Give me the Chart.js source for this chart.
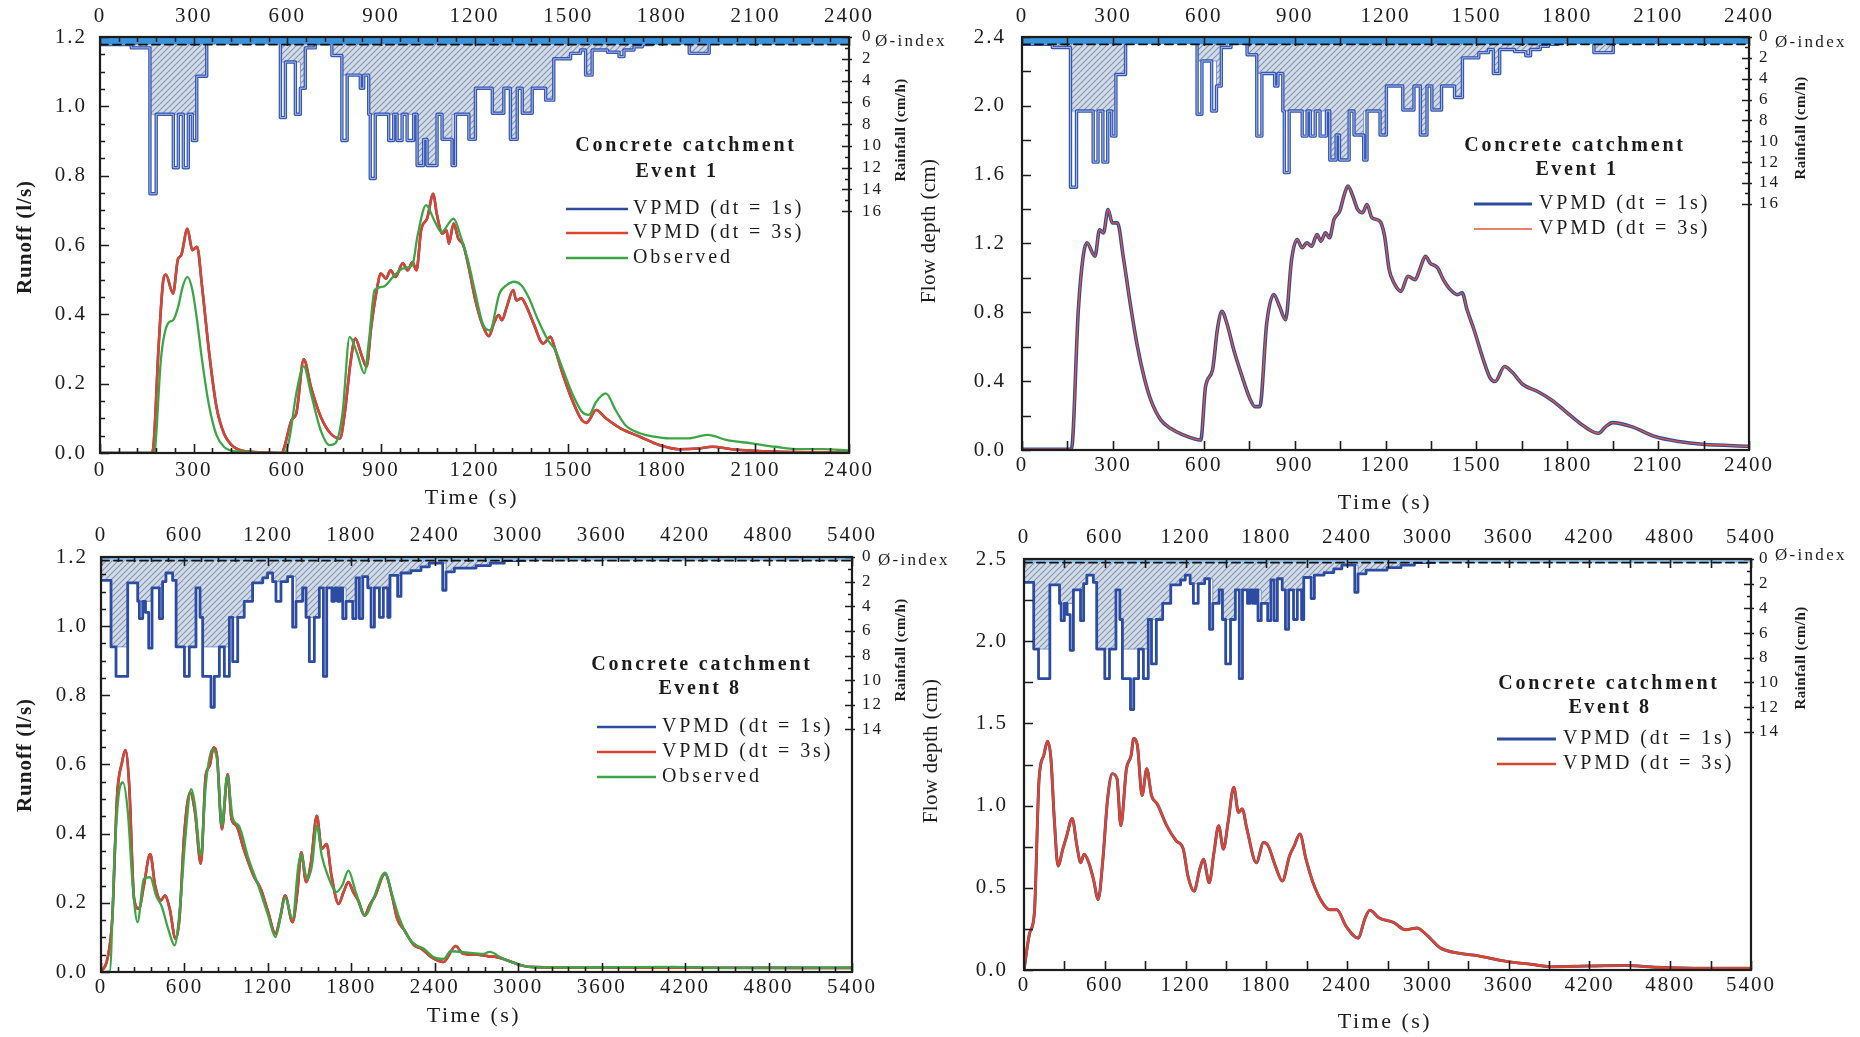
<!DOCTYPE html>
<html>
<head>
<meta charset="utf-8">
<script src="https://cdn.jsdelivr.net/npm/chart.js@4.4.1/dist/chart.umd.min.js"></script>
<style>
  html, body { margin: 0; padding: 0; background: #ffffff; }
  body { width: 1860px; height: 1037px; position: relative; overflow: hidden; }
  .panel { position: absolute; }
  .panel canvas { display: block; }
</style>
</head>
<body>
<div class="panel" style="left:0px;top:0px;width:960px;height:517px"><canvas id="c1"></canvas></div>
<div class="panel" style="left:900px;top:0px;width:960px;height:517px"><canvas id="c2"></canvas></div>
<div class="panel" style="left:0px;top:517px;width:960px;height:520px"><canvas id="c3"></canvas></div>
<div class="panel" style="left:900px;top:517px;width:960px;height:520px"><canvas id="c4"></canvas></div>
<script>
// ---------- Event 1: rainfall hyetograph, [start time (s), intensity (cm/h)] ----------
const rain1Outline = [[0,0.7],[100,1.0],[160,14.4],[180,7.1],[235,12.0],[251,7.1],[267,12.0],[283,7.1],[296,9.5],[310,3.6],[342,0.3],
  [578,7.4],[594,2.3],[626,7.1],[642,4.7],[658,1.0],[690,0.6],[743,1.7],[775,9.5],[792,3.5],[834,4.7],[845,3.5],[861,7.1],[866,13.0],
  [882,7.1],[925,9.5],[941,7.1],[952,9.5],[968,7.1],[984,9.5],[1005,7.1],[1016,11.8],[1037,9.4],[1048,11.8],[1080,7.1],[1096,9.4],
  [1128,11.8],[1139,7.1],[1182,9.4],[1203,4.7],[1257,7.0],[1294,4.7],[1315,9.4],[1337,4.7],[1353,7.0],[1385,4.7],[1428,5.8],[1454,2.0],
  [1508,1.5],[1540,1.2],[1556,3.5],[1577,1.2],[1626,1.4],[1663,1.8],[1679,1.2],[1711,0.9],[1738,0.7],[1770,0.5],[1888,1.5],[1952,0.5],[2400,0.5]];
const rain1Hatch = [[0,0.7],[100,1.0],[160,7.1],[310,3.6],[342,0.3],[578,2.3],[642,4.7],[658,1.0],[690,0.6],[743,1.7],[775,3.5],[834,4.7],
  [845,3.5],[861,7.1],[1016,11.8],[1037,9.4],[1048,11.8],[1080,7.1],[1096,9.4],[1128,7.1],[1182,9.4],[1203,4.7],[1257,7.0],[1294,4.7],
  [1315,9.4],[1337,4.7],[1353,7.0],[1385,4.7],[1428,5.8],[1454,2.0],[1508,1.5],[1540,1.2],[1556,3.5],[1577,1.2],[1626,1.4],[1663,1.8],
  [1679,1.2],[1711,0.9],[1738,0.7],[1770,0.5],[1888,1.5],[1952,0.5],[2400,0.5]];
const phiIndex1 = 0.7;

// ---------- Event 1: runoff (l/s), [time (s), value] ----------
const runoff1Vpmd = [[0,0],[164,0],[170,0.01],[188,0.31],[203,0.50],[211,0.515],[234,0.46],[250,0.56],[260,0.57],[280,0.647],[296,0.585],
  [311,0.595],[327,0.48],[350,0.287],[373,0.134],[397,0.057],[428,0.018],[474,0.004],[583,0],[590,0.015],[614,0.095],[629,0.114],[653,0.27],
  [676,0.19],[707,0.105],[738,0.057],[769,0.042],[784,0.114],[803,0.263],[818,0.33],[839,0.28],[854,0.249],[869,0.364],[885,0.46],[900,0.518],
  [916,0.503],[931,0.527],[947,0.508],[970,0.547],[986,0.527],[1001,0.551],[1014,0.527],[1029,0.643],[1048,0.676],[1068,0.748],[1079,0.69],
  [1097,0.633],[1110,0.643],[1118,0.604],[1133,0.662],[1148,0.619],[1164,0.6],[1179,0.547],[1203,0.44],[1226,0.369],[1246,0.337],[1262,0.374],
  [1277,0.398],[1288,0.383],[1303,0.42],[1324,0.47],[1334,0.44],[1350,0.446],[1365,0.426],[1389,0.374],[1420,0.316],[1443,0.335],[1459,0.297],
  [1482,0.23],[1513,0.153],[1544,0.095],[1559,0.087],[1590,0.124],[1621,0.1],[1668,0.071],[1730,0.047],[1792,0.023],[1854,0.011],[1916,0.013],
  [1962,0.018],[2024,0.011],[2164,0.004],[2400,0.001]];
const runoff1Obs = [[0,0],[175,0],[180,0.05],[195,0.268],[218,0.374],[234,0.383],[250,0.42],[265,0.48],[280,0.508],[296,0.47],[311,0.383],
  [327,0.268],[350,0.134],[373,0.052],[397,0.018],[443,0.004],[590,0],[606,0.037],[629,0.172],[653,0.25],[676,0.172],[707,0.066],[735,0.023],
  [754,0.028],[777,0.114],[800,0.335],[824,0.287],[847,0.23],[862,0.326],[880,0.47],[908,0.48],[939,0.508],[970,0.532],[1001,0.542],[1017,0.624],
  [1045,0.715],[1071,0.671],[1094,0.638],[1133,0.676],[1156,0.624],[1179,0.556],[1203,0.46],[1226,0.374],[1249,0.354],[1280,0.46],[1303,0.484],
  [1327,0.494],[1350,0.484],[1373,0.45],[1404,0.383],[1435,0.326],[1459,0.297],[1482,0.244],[1513,0.172],[1544,0.119],[1567,0.11],[1590,0.148],
  [1621,0.172],[1652,0.124],[1683,0.081],[1730,0.057],[1776,0.047],[1823,0.042],[1885,0.042],[1947,0.052],[2009,0.037],[2087,0.028],[2164,0.018],
  [2242,0.011],[2319,0.011],[2400,0.007]];

// ---------- Event 1: flow depth (cm) ----------
const depth1Vpmd = [[0,0.004],[163,0.004],[186,0.816],[202,1.126],[214,1.204],[241,1.126],[256,1.28],[269,1.262],[284,1.398],[298,1.32],
  [315,1.32],[334,1.126],[357,0.854],[381,0.602],[404,0.417],[427,0.282],[458,0.175],[490,0.126],[528,0.091],[590,0.058],[606,0.369],[629,0.466],
  [645,0.7],[660,0.806],[676,0.738],[699,0.583],[723,0.447],[754,0.291],[769,0.252],[785,0.252],[808,0.738],[831,0.903],[850,0.835],[870,0.757],
  [890,1.107],[908,1.223],[925,1.175],[940,1.204],[956,1.184],[974,1.252],[987,1.214],[1002,1.262],[1015,1.233],[1030,1.34],[1049,1.388],
  [1064,1.485],[1076,1.534],[1092,1.476],[1108,1.398],[1124,1.379],[1139,1.427],[1155,1.35],[1181,1.33],[1197,1.243],[1212,1.049],[1228,0.971],
  [1251,0.922],[1274,1.01],[1298,0.99],[1313,1.049],[1332,1.126],[1347,1.087],[1372,1.058],[1391,0.99],[1414,0.932],[1438,0.903],[1453,0.913],
  [1469,0.816],[1492,0.7],[1523,0.524],[1546,0.417],[1562,0.398],[1593,0.485],[1616,0.456],[1655,0.379],[1702,0.34],[1748,0.291],[1795,0.223],
  [1857,0.136],[1903,0.097],[1927,0.136],[1950,0.159],[2012,0.136],[2090,0.078],[2168,0.049],[2246,0.033],[2400,0.022]];

// ---------- Event 8: rainfall hyetograph ----------
const rain8Outline = [[0,1.9],[72,7.3],[108,9.7],[192,2.1],[264,3.6],[276,5.0],[300,3.6],[320,4.5],[343,7.4],[367,2.5],[420,5.0],[443,2.0],
  [467,1.3],[515,1.9],[540,7.3],[600,9.7],[635,7.3],[683,2.5],[712,4.9],[731,9.7],[791,12.2],[815,9.7],[851,7.3],[887,9.7],[923,4.9],[947,8.5],
  [983,4.9],[1030,3.6],[1090,2.1],[1163,1.7],[1198,1.3],[1234,2.0],[1258,3.6],[1294,2.0],[1342,1.6],[1378,5.7],[1402,3.6],[1450,2.5],[1474,4.9],
  [1498,8.5],[1534,4.9],[1570,2.5],[1599,9.7],[1623,2.5],[1660,3.6],[1680,2.5],[1700,3.6],[1720,2.5],[1738,5.0],[1762,3.6],[1810,5.0],[1834,1.7],
  [1858,5.0],[1882,1.6],[1918,2.5],[1942,5.7],[1966,2.5],[2002,4.9],[2030,2.5],[2062,4.9],[2078,1.5],[2133,3.2],[2157,1.3],[2229,1.1],[2301,0.8],
  [2361,0.5],[2457,2.7],[2481,1.2],[2541,0.9],[2697,0.7],[2800,0.5],[2900,0.3],[3050,0.1],[3200,0],[5400,0]];
const rain8Hatch = [[0,1.9],[72,7.3],[192,2.1],[264,3.6],[367,2.5],[443,2.0],[467,1.3],[515,1.9],[540,7.3],[683,2.5],[712,4.9],[731,7.3],
  [923,4.9],[1030,3.6],[1090,2.1],[1163,1.7],[1198,1.3],[1234,2.0],[1342,1.6],[1402,3.6],[1450,2.5],[1474,4.9],[1570,2.5],[1660,3.6],[1680,2.5],
  [1762,3.6],[1834,1.7],[1882,1.6],[1918,2.5],[2078,1.5],[2157,1.3],[2229,1.1],[2301,0.8],[2361,0.5],[2481,1.2],[2541,0.9],[2697,0.7],[2800,0.5],
  [2900,0.3],[3050,0.1],[3200,0],[5400,0]];
const phiIndex8 = 0.3;

// ---------- Event 8: runoff (l/s) ----------
const runoff8Vpmd = [[0,0],[46,0.038],[81,0.154],[116,0.51],[151,0.606],[175,0.642],[203,0.538],[238,0.212],[273,0.183],[308,0.25],[354,0.341],
  [389,0.25],[431,0.207],[459,0.221],[494,0.183],[536,0.096],[564,0.154],[599,0.4],[641,0.519],[676,0.462],[718,0.313],[753,0.567],[781,0.596],
  [809,0.649],[834,0.625],[869,0.413],[911,0.572],[939,0.442],[974,0.423],[1026,0.356],[1096,0.279],[1149,0.24],[1202,0.173],[1254,0.111],
  [1289,0.159],[1324,0.221],[1377,0.144],[1412,0.231],[1440,0.346],[1475,0.26],[1510,0.317],[1552,0.452],[1587,0.356],[1622,0.37],[1657,0.279],
  [1709,0.197],[1744,0.231],[1779,0.26],[1814,0.231],[1849,0.207],[1895,0.163],[1930,0.192],[1972,0.221],[2042,0.284],[2095,0.216],[2130,0.154],
  [2182,0.12],[2252,0.077],[2305,0.067],[2375,0.043],[2463,0.029],[2550,0.075],[2603,0.053],[2708,0.05],[2778,0.046],[2848,0.043],[2918,0.034],
  [3023,0.019],[3128,0.014],[3478,0.0125],[4179,0.0125],[5400,0.0115]];
const runoff8Obs = [[0,0],[63,0.002],[98,0.346],[133,0.529],[158,0.548],[193,0.462],[228,0.25],[263,0.144],[308,0.269],[354,0.274],[396,0.221],
  [438,0.188],[483,0.125],[529,0.077],[571,0.202],[606,0.385],[648,0.529],[676,0.481],[718,0.337],[753,0.538],[799,0.644],[834,0.615],[869,0.423],
  [907,0.567],[949,0.442],[991,0.423],[1061,0.327],[1131,0.25],[1202,0.163],[1254,0.101],[1289,0.154],[1324,0.216],[1377,0.154],[1419,0.308],
  [1440,0.341],[1482,0.269],[1517,0.308],[1552,0.423],[1587,0.337],[1640,0.269],[1692,0.231],[1734,0.25],[1779,0.293],[1832,0.231],[1902,0.163],
  [1954,0.207],[2042,0.287],[2095,0.221],[2147,0.154],[2217,0.096],[2270,0.077],[2322,0.067],[2392,0.043],[2463,0.038],[2515,0.06],[2638,0.056],
  [2743,0.052],[2795,0.058],[2883,0.04],[2988,0.024],[3093,0.014],[3500,0.013],[4109,0.015],[4500,0.012],[5400,0.013]];

// ---------- Event 8: flow depth (cm) ----------
const depth8Vpmd = [[0,0],[42,0.224],[77,0.347],[112,1.163],[147,1.306],[175,1.392],[200,1.286],[225,0.918],[253,0.633],[288,0.735],[316,0.812],
  [358,0.922],[393,0.755],[421,0.653],[446,0.704],[481,0.653],[516,0.551],[551,0.429],[586,0.673],[621,1.041],[656,1.194],[691,1.163],[719,0.878],
  [761,1.224],[796,1.306],[814,1.408],[842,1.367],[877,1.061],[912,1.224],[947,1.061],[990,1.01],[1060,0.878],[1130,0.786],[1183,0.735],
  [1218,0.571],[1263,0.48],[1305,0.612],[1333,0.673],[1376,0.531],[1411,0.714],[1446,0.878],[1481,0.735],[1516,0.898],[1558,1.112],[1593,0.959],
  [1621,0.98],[1656,0.857],[1726,0.653],[1779,0.776],[1814,0.755],[1867,0.633],[1919,0.541],[1972,0.694],[2007,0.755],[2049,0.827],[2095,0.673],
  [2147,0.531],[2218,0.408],[2270,0.367],[2323,0.367],[2393,0.265],[2481,0.194],[2534,0.316],[2569,0.363],[2639,0.316],[2744,0.29],[2832,0.245],
  [2919,0.255],[2990,0.214],[3095,0.133],[3235,0.102],[3376,0.086],[3551,0.057],[3762,0.035],[3937,0.02],[4183,0.024],[4463,0.027],[4709,0.016],
  [5060,0.01],[5400,0.01]];

// ---------- labels ----------
const catchmentName = 'Concrete catchment';
const seriesNames = ['VPMD (dt = 1s)', 'VPMD (dt = 3s)', 'Observed'];
const timeTitle = 'Time (s)';
const runoffTitle = 'Runoff (l/s)';
const depthTitle = 'Flow depth (cm)';
const rainTitle = 'Rainfall (cm/h)';
const phiTitle = '\u00D8-index';

// ---------- styling ----------
const SERIF = '"Liberation Serif", "Times New Roman", Times, serif';
const INK = '#1c1c1c';
const BLUE = '#2d4c9f';
const RED = '#d9452e';
const GREEN = '#3ca646';

const toXY = pairs => pairs.map(p => ({ x: p[0], y: p[1] }));

function makeHatch(ctx) {
  const c = document.createElement('canvas');
  c.width = 6; c.height = 6;
  const g = c.getContext('2d');
  g.fillStyle = '#d3dbe6';
  g.fillRect(0, 0, 6, 6);
  g.strokeStyle = '#8396b2';
  g.lineWidth = 1.1;
  g.beginPath();
  g.moveTo(-1, 7); g.lineTo(7, -1);
  g.moveTo(-1, 1); g.lineTo(1, -1);
  g.moveTo(5, 7); g.lineTo(7, 5);
  g.stroke();
  return ctx.createPattern(c, 'repeat');
}

function eachStep(max, step, major, fn) {
  const n = Math.round(max / step);
  for (let i = 0; i <= n; i++) {
    const v = i * step;
    const r = v / major;
    fn(v, Math.abs(r - Math.round(r)) < 1e-6);
  }
}

function drawText(ctx, str, x, y, opt) {
  ctx.save();
  ctx.font = opt.font;
  ctx.letterSpacing = (opt.spacing || 0) + 'px';
  ctx.fillStyle = INK;
  ctx.textAlign = opt.align || 'center';
  ctx.textBaseline = 'middle';
  ctx.translate(x, y);
  if (opt.rotate) ctx.rotate(-Math.PI / 2);
  ctx.fillText(str, 0, 0);
  ctx.restore();
}

function decor(p) {
  const ox = p.origin[0], oy = p.origin[1];
  return {
    id: 'decor',
    beforeDraw(chart) { chart.ctx.letterSpacing = '2px'; },
    afterDraw(chart) {
      const ctx = chart.ctx, a = chart.chartArea;
      const sx = chart.scales.x, sy = chart.scales.y, sr = chart.scales.rain;
      ctx.save();
      ctx.strokeStyle = INK;
      ctx.lineWidth = 1.6;
      ctx.beginPath();
      eachStep(p.xMax, p.xTick, p.xMajor, (v, major) => {
        const px = Math.round(sx.getPixelForValue(v)) + 0.5, len = major ? 9 : 5;
        ctx.moveTo(px, a.bottom); ctx.lineTo(px, a.bottom - len);
        ctx.moveTo(px, a.top); ctx.lineTo(px, a.top + len);
      });
      eachStep(p.yMax, p.yTick, p.yMajor, (v, major) => {
        const py = Math.round(sy.getPixelForValue(v)) + 0.5, len = major ? 9 : 5;
        ctx.moveTo(a.left, py); ctx.lineTo(a.left + len, py);
      });
      eachStep(p.rainLabelMax, 1, 2, (v, major) => {
        const py = Math.round(sr.getPixelForValue(v)) + 0.5;
        ctx.moveTo(a.right - (major ? 7 : 4), py); ctx.lineTo(a.right + (major ? 3 : 1), py);
      });
      ctx.stroke();
      ctx.lineWidth = 2.2;
      ctx.strokeRect(a.left, a.top, a.right - a.left, a.bottom - a.top);
      ctx.restore();

      drawText(ctx, timeTitle, p.xTitle[0] - ox, p.xTitle[1] - oy, { font: '22px ' + SERIF, spacing: 2.5 });
      drawText(ctx, p.yTitle, p.yTitlePos[0] - ox, p.yTitlePos[1] - oy,
        { font: (p.yTitleBold ? 'bold ' : '') + '21px ' + SERIF, spacing: p.yTitleBold ? 1 : 0.3, rotate: true });
      drawText(ctx, rainTitle, p.rainTitle[0] - ox, p.rainTitle[1] - oy, { font: 'bold 15px ' + SERIF, spacing: 0.4, rotate: true });
      drawText(ctx, phiTitle, p.phiPos[0] - ox, p.phiPos[1] - oy, { font: '17px ' + SERIF, spacing: 2.3, align: 'left' });

      drawText(ctx, catchmentName, p.legTitle[0][0] - ox, p.legTitle[0][1] - oy, { font: 'bold 20px ' + SERIF, spacing: 2.8 });
      drawText(ctx, p.eventName, p.legTitle[1][0] - ox, p.legTitle[1][1] - oy, { font: 'bold 20px ' + SERIF, spacing: 2.6 });
      p.series.forEach((s, i) => {
        const y = p.legRows[i] - oy;
        ctx.save();
        ctx.strokeStyle = s.color;
        ctx.lineWidth = Math.min(s.width, 3);
        ctx.beginPath();
        ctx.moveTo(p.legLine[0] - ox, y); ctx.lineTo(p.legLine[1] - ox, y);
        ctx.stroke();
        ctx.restore();
        drawText(ctx, s.label, p.legTextX - ox, y, { font: '20px ' + SERIF, spacing: 2.9, align: 'left' });
      });
    }
  };
}

function buildPanel(p) {
  const canvas = document.getElementById(p.id);
  const hatch = makeHatch(canvas.getContext('2d'));
  const W = p.size[0], H = p.size[1], A = p.area;
  const datasets = [
    { data: toXY(p.rainHatch), xAxisID: 'x', yAxisID: 'rain', stepped: true, borderColor: '#6a80c0', borderWidth: 0.8,
      backgroundColor: hatch, fill: { value: 0 }, order: 8 },
    { data: toXY(p.rainOutline), xAxisID: 'x', yAxisID: 'rain', stepped: true, borderColor: p.outlineColor,
      borderWidth: p.outlineWidth, fill: false, order: 7 }
  ];
  if (p.outlineInner) {
    datasets.push({ data: toXY(p.rainOutline), xAxisID: 'x', yAxisID: 'rain', stepped: true,
      borderColor: 'rgba(196,209,240,0.9)', borderWidth: 0.9, fill: false, order: 6 });
  }
  datasets.push({ data: [{ x: 0, y: p.phi }, { x: p.xMax, y: p.phi }], xAxisID: 'x', yAxisID: 'rain',
    borderColor: '#111111', borderWidth: 1.8, borderDash: [8, 5], backgroundColor: p.phiFill, fill: { value: 0 }, order: 5 });
  p.series.forEach(s => datasets.push({ label: s.label, data: toXY(s.data), xAxisID: 'x', yAxisID: 'y',
    borderColor: s.color, borderWidth: s.width, fill: false, cubicInterpolationMode: 'monotone', order: s.order }));

  const tickFont = { family: SERIF, size: 21 };
  const xAxis = (position, pad, size) => ({
    type: 'linear', axis: 'x', position, min: 0, max: p.xMax,
    grid: { display: false, drawTicks: false }, border: { display: false },
    ticks: { stepSize: p.xLabel, autoSkip: false, maxRotation: 0, padding: pad, font: tickFont, color: INK,
      callback: v => String(v) },
    afterFit: s => { s.height = size; }
  });

  new Chart(canvas, {
    type: 'line',
    data: { datasets },
    options: {
      responsive: true, maintainAspectRatio: false, animation: false, events: [],
      layout: { padding: 0 },
      elements: { point: { radius: 0, hoverRadius: 0 }, line: { borderJoinStyle: 'round', borderCapStyle: 'round' } },
      plugins: { legend: { display: false }, tooltip: { enabled: false } },
      scales: {
        x: xAxis('bottom', p.padBottom, H - A.b),
        xTop: xAxis('top', p.padTop, A.t),
        y: {
          type: 'linear', position: 'left', min: 0, max: p.yMax,
          grid: { display: false, drawTicks: false }, border: { display: false },
          ticks: { stepSize: p.yLabel, padding: p.padLeft, font: tickFont, color: INK, callback: v => v.toFixed(1) },
          afterFit: s => { s.width = A.l; }
        },
        rain: {
          type: 'linear', axis: 'y', position: 'right', reverse: true, min: 0, max: p.rainMax,
          grid: { display: false, drawTicks: false }, border: { display: false },
          ticks: { stepSize: 2, autoSkip: false, padding: p.padRight, font: { family: SERIF, size: 17 }, color: INK,
            callback: v => (v <= p.rainLabelMax ? String(v) : null) },
          afterFit: s => { s.width = W - A.r; }
        }
      }
    },
    plugins: [decor(p)]
  });
}

const panels = [
  { id: 'c1', origin: [0, 0], size: [960, 517], area: { l: 100, t: 37, r: 849, b: 453 },
    xMax: 2400, xLabel: 300, xTick: 60, xMajor: 300, yMax: 1.2, yLabel: 0.2, yTick: 0.05, yMajor: 0.2,
    rainMax: 38.2, rainLabelMax: 16, padBottom: 5, padTop: 8, padLeft: 13, padRight: 13,
    rainOutline: rain1Outline, rainHatch: rain1Hatch, phi: phiIndex1, phiFill: '#3b94db',
    outlineColor: '#3556b3', outlineWidth: 3.4, outlineInner: true,
    yTitle: runoffTitle, yTitleBold: true, yTitlePos: [26, 237], xTitle: [472, 498], rainTitle: [901, 130], phiPos: [875, 42],
    eventName: 'Event 1', legTitle: [[686, 146], [677, 172]], legLine: [566, 628], legTextX: 633, legRows: [209, 233, 258],
    series: [
      { label: seriesNames[0], data: runoff1Vpmd, color: BLUE, width: 2.6, order: 2 },
      { label: seriesNames[1], data: runoff1Vpmd, color: RED, width: 2.6, order: 1 },
      { label: seriesNames[2], data: runoff1Obs, color: GREEN, width: 2.3, order: 0 }
    ] },
  { id: 'c2', origin: [900, 0], size: [960, 517], area: { l: 122, t: 37, r: 849, b: 450 },
    xMax: 2400, xLabel: 300, xTick: 150, xMajor: 150, yMax: 2.4, yLabel: 0.4, yTick: 0.2, yMajor: 0.2,
    rainMax: 39.6, rainLabelMax: 16, padBottom: 3, padTop: 8, padLeft: 16, padRight: 10,
    rainOutline: rain1Outline, rainHatch: rain1Hatch, phi: phiIndex1, phiFill: '#3b94db',
    outlineColor: '#3556b3', outlineWidth: 3.4, outlineInner: true,
    yTitle: depthTitle, yTitleBold: false, yTitlePos: [929, 231], xTitle: [1385, 503], rainTitle: [1801, 128], phiPos: [1775, 43],
    eventName: 'Event 1', legTitle: [[1575, 146], [1577, 170]], legLine: [1474, 1532], legTextX: 1539, legRows: [204, 229],
    series: [
      { label: seriesNames[0], data: depth1Vpmd, color: BLUE, width: 3.6, order: 1 },
      { label: seriesNames[1], data: depth1Vpmd, color: '#e0563c', width: 1.4, order: 0 }
    ] },
  { id: 'c3', origin: [0, 517], size: [960, 520], area: { l: 101, t: 40, r: 852, b: 455 },
    xMax: 5400, xLabel: 600, xTick: 120, xMajor: 600, yMax: 1.2, yLabel: 0.2, yTick: 0.05, yMajor: 0.2,
    rainMax: 33.7, rainLabelMax: 14, padBottom: 3, padTop: 9, padLeft: 13, padRight: 10,
    rainOutline: rain8Outline, rainHatch: rain8Hatch, phi: phiIndex8, phiFill: '#8fc4ec',
    outlineColor: '#2c4ba2', outlineWidth: 2.8, outlineInner: false,
    yTitle: runoffTitle, yTitleBold: true, yTitlePos: [26, 755], xTitle: [474, 1016], rainTitle: [901, 650], phiPos: [878, 561],
    eventName: 'Event 8', legTitle: [[702, 665], [700, 689]], legLine: [597, 656], legTextX: 662, legRows: [727, 752, 777],
    series: [
      { label: seriesNames[0], data: runoff8Vpmd, color: BLUE, width: 2.6, order: 2 },
      { label: seriesNames[1], data: runoff8Vpmd, color: RED, width: 2.6, order: 1 },
      { label: seriesNames[2], data: runoff8Obs, color: GREEN, width: 2.3, order: 0 }
    ] },
  { id: 'c4', origin: [900, 517], size: [960, 520], area: { l: 124, t: 42, r: 851, b: 453 },
    xMax: 5400, xLabel: 600, xTick: 300, xMajor: 300, yMax: 2.5, yLabel: 0.5, yTick: 0.25, yMajor: 0.25,
    rainMax: 33.3, rainLabelMax: 14, padBottom: 3, padTop: 9, padLeft: 16, padRight: 8,
    rainOutline: rain8Outline, rainHatch: rain8Hatch, phi: phiIndex8, phiFill: '#8fc4ec',
    outlineColor: '#2c4ba2', outlineWidth: 2.8, outlineInner: false,
    yTitle: depthTitle, yTitleBold: false, yTitlePos: [931, 751], xTitle: [1385, 1022], rainTitle: [1801, 658], phiPos: [1775, 556],
    eventName: 'Event 8', legTitle: [[1609, 684], [1610, 708]], legLine: [1497, 1556], legTextX: 1563, legRows: [739, 764],
    series: [
      { label: seriesNames[0], data: depth8Vpmd, color: BLUE, width: 3, order: 1 },
      { label: seriesNames[1], data: depth8Vpmd, color: RED, width: 2.6, order: 0 }
    ] }
];

panels.forEach(buildPanel);
</script>
</body>
</html>
